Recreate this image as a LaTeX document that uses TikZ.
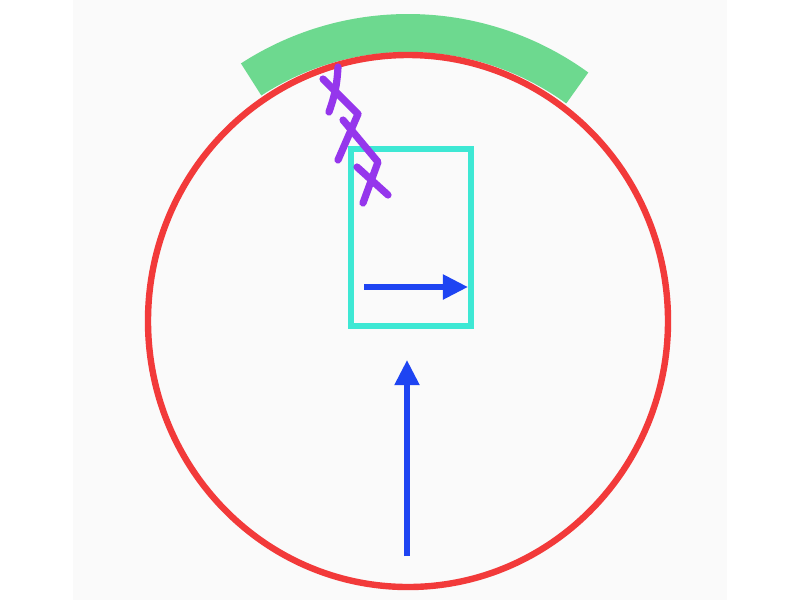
\documentclass[tikz,border=0pt]{standalone}
\usepackage{tikz}
\usetikzlibrary{arrows.meta}

\definecolor{ringred}{HTML}{F23A3A}
\definecolor{paintgreen}{HTML}{6DD98F}
\definecolor{boxcyan}{HTML}{3EE8D4}
\definecolor{arrowblue}{HTML}{1E44F2}
\definecolor{scribble}{HTML}{9536EC}
\definecolor{paper}{HTML}{FAFAFA}

\begin{document}
\begin{tikzpicture}[x=0.025cm, y=-0.025cm,
    frame/.style={draw=boxcyan, line width=0.15cm, minimum width=3cm, minimum height=4.43cm, inner sep=0pt},
    vec/.style={draw=arrowblue, line width=0.14cm, -{Triangle[length=0.63cm, width=0.6cm]}},
    zig/.style={draw=scribble, line width=0.18cm, line cap=round, line join=round}]
      % Hintergrund
      \useasboundingbox (0,0) rectangle (800,600);
      \fill[white] (0,0) rectangle (800,600);
      \fill[paper] (73,0) rectangle (727,600);
      % Bogen oben
      \coordinate (ctr) at (408,321);
      \draw[paintgreen, line width=0.95cm, line join=round] (ctr) ++(-123:288) arc[start angle=-123, end angle=-54, radius=288];
      % Kreis
      \draw[ringred, line width=0.16cm] (ctr) ellipse (260 and 266);
      % Rechteck
      \node[frame] (box) at (411,237.5) {};
      \coordinate (h0) at (364,287);
      \coordinate (h1) at (468,287);
      \draw[vec] (h0) -- (h1);
      % Pfeil unten
      \coordinate (v0) at (407,556);
      \coordinate (v1) at (407,360);
      \draw[vec] (v0) -- (v1);
      % Zickzack
      \draw[zig] (338,67) to[bend left=8] (329,112);
      \draw[zig] (323,79) -- (358,114) -- (338,160);
      \draw[zig] (343,120) -- (378,162) -- (363,203);
      \draw[zig] (357,167) -- (388,195);
\end{tikzpicture}
\end{document}
